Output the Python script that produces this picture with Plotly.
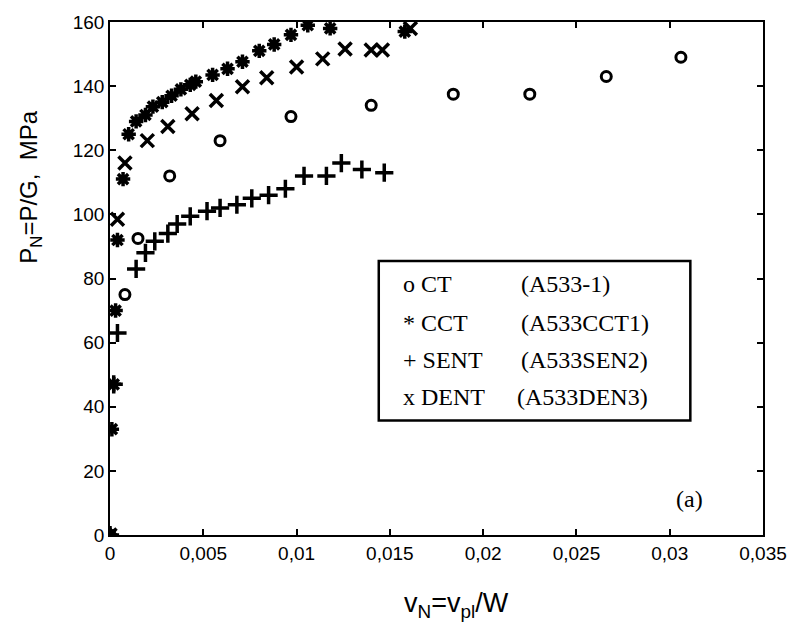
import plotly.graph_objects as go

# ---- data ----
ct_x = [0.0, 0.0008, 0.0015, 0.0032, 0.0059, 0.0097, 0.0140, 0.0184, 0.0225, 0.0266, 0.0306]
ct_y = [0.0, 75.0, 92.5, 112.0, 123.0, 130.5, 134.0, 137.5, 137.5, 143.0, 149.0]

cct_x = [0.0, 0.0001, 0.0002, 0.0003, 0.0004, 0.0007, 0.0010, 0.0014, 0.0019, 0.0023, 0.0028,
         0.0033, 0.0038, 0.0043, 0.0046, 0.0055, 0.0063, 0.0071, 0.0080, 0.0088, 0.0097,
         0.0106, 0.0118, 0.0158]
cct_y = [0.0, 33.0, 47.0, 70.0, 92.0, 111.0, 125.0, 129.0, 131.0, 133.6, 135.0,
         137.0, 139.0, 140.4, 141.4, 143.5, 145.4, 147.6, 151.0, 153.0, 156.0,
         159.0, 158.0, 157.0]

sent_x = [0.0, 0.0002, 0.0004, 0.0014, 0.0019, 0.0024, 0.0031, 0.0036, 0.0043, 0.0052, 0.0059,
          0.0068, 0.0076, 0.0085, 0.0094, 0.0104, 0.0116, 0.0124, 0.0135, 0.0147]
sent_y = [0.0, 47.0, 63.0, 83.0, 88.0, 91.6, 94.0, 97.0, 99.4, 101.0, 102.0,
          103.0, 105.0, 106.0, 108.0, 112.0, 112.0, 116.0, 114.0, 113.0]

dent_x = [0.0, 0.0004, 0.0008, 0.0020, 0.0031, 0.0044, 0.0057, 0.0071, 0.0084, 0.0100,
          0.0114, 0.0126, 0.0140, 0.0146, 0.0161]
dent_y = [0.0, 98.5, 116.0, 123.0, 127.4, 131.4, 135.5, 139.8, 142.6, 146.0,
          148.5, 151.6, 151.3, 151.3, 158.0]

x_ticks = [0, 0.005, 0.01, 0.015, 0.02, 0.025, 0.03, 0.035]
x_ticktext = ["0", "0,005", "0,01", "0,015", "0,02", "0,025", "0,03", "0,035"]
y_ticks = [0, 20, 40, 60, 80, 100, 120, 140, 160]

legend_sym = ["o", "*", "+", "x"]
legend_name = ["CT", "CCT", "SENT", "DENT"]
legend_spec = ["(A533-1)", "(A533CCT1)", "(A533SEN2)", "(A533DEN3)"]

fig = go.Figure()

fig.add_trace(go.Scatter(x=ct_x, y=ct_y, mode="markers", name="CT",
                         marker=dict(symbol="circle-open", size=10, color="black",
                                     line=dict(width=3, color="black"))))
fig.add_trace(go.Scatter(x=cct_x, y=cct_y, mode="markers", name="CCT",
                         marker=dict(symbol="asterisk-open", size=12, color="black",
                                     line=dict(width=3.5, color="black"))))
fig.add_trace(go.Scatter(x=sent_x, y=sent_y, mode="markers", name="SENT",
                         marker=dict(symbol="cross-thin-open", size=13, color="black",
                                     line=dict(width=3.5, color="black"))))
fig.add_trace(go.Scatter(x=dent_x, y=dent_y, mode="markers", name="DENT",
                         marker=dict(symbol="x-thin-open", size=13, color="black",
                                     line=dict(width=3.5, color="black"))))

axis_common = dict(showline=True, linecolor="black", linewidth=1.5, mirror="ticks",
                   ticks="inside", ticklen=6, tickwidth=1.5, tickcolor="black",
                   showgrid=False, zeroline=False,
                   tickfont=dict(family="Liberation Sans, Arial", size=19, color="black"))

fig.update_xaxes(range=[0, 0.035], tickvals=x_ticks, ticktext=x_ticktext, **axis_common)
fig.update_yaxes(range=[0, 160], tickvals=y_ticks, **axis_common)

# axis titles (placed as in the reference)
fig.add_annotation(xref="paper", yref="paper", x=(458 - 110) / 656, y=(535 - 605) / 515,
                   xanchor="center", yanchor="middle", showarrow=False,
                   text="v<sub>N</sub>=v<sub>pl</sub>/W",
                   font=dict(family="Liberation Sans, Arial", size=27, color="black"))
fig.add_annotation(xref="paper", yref="paper", x=(30 - 110) / 656, y=(535 - 185) / 515,
                   xanchor="center", yanchor="middle", showarrow=False, textangle=-90,
                   text="P<sub>N</sub>=P/G,  MPa",
                   font=dict(family="Liberation Sans, Arial", size=24, color="black"))

# legend box
fig.add_shape(type="rect", xref="paper", yref="paper",
              x0=(380 - 110) / 656, x1=(693 - 110) / 656,
              y0=(535 - 420) / 515, y1=(535 - 260) / 515,
              line=dict(color="black", width=2.5), fillcolor="white", layer="above")

row_py = [283, 322, 359, 396]
for i in range(4):
    yp = (535 - row_py[i]) / 515
    fig.add_annotation(xref="paper", yref="paper", x=(402 - 110) / 656, y=yp,
                       xanchor="left", yanchor="middle", showarrow=False,
                       text=legend_sym[i] + " " + legend_name[i],
                       font=dict(family="Liberation Serif, Times New Roman", size=24, color="black"))
    xs = 521 if i < 3 else 517
    fig.add_annotation(xref="paper", yref="paper", x=(xs - 110) / 656, y=yp,
                       xanchor="left", yanchor="middle", showarrow=False,
                       text=legend_spec[i],
                       font=dict(family="Liberation Serif, Times New Roman", size=24, color="black"))

fig.add_annotation(xref="paper", yref="paper", x=(708 - 110) / 656, y=(535 - 499) / 515,
                   xanchor="right", yanchor="middle", showarrow=False, text="(a)",
                   font=dict(family="Liberation Serif, Times New Roman", size=24, color="black"))

fig.update_layout(width=799, height=634, showlegend=False,
                  margin=dict(l=110, r=33, t=20, b=99),
                  paper_bgcolor="white", plot_bgcolor="white")

fig.write_html("out.html")
